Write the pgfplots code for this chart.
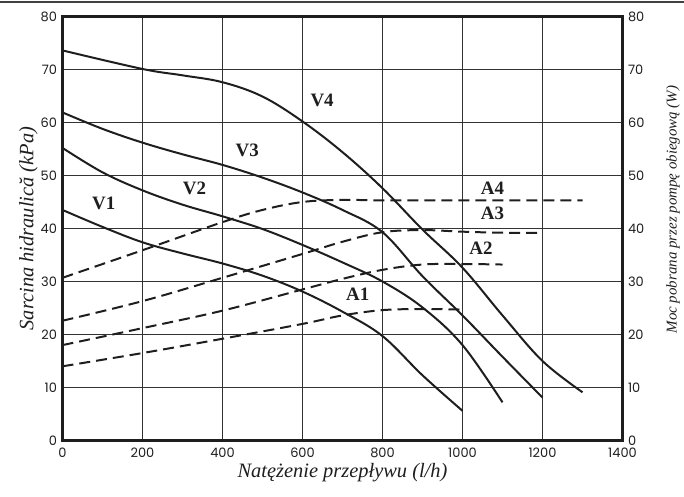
\documentclass[border=0pt]{standalone}
\usepackage{fontspec}
\setmainfont{Liberation Serif}
\newfontfamily\tickfont{Poppins}
\usepackage{pgfplots}
\pgfplotsset{compat=1.18}

\definecolor{ink}{HTML}{1E1E1E}
\definecolor{gridc}{HTML}{333333}

\pgfplotsset{
  pump/.style={
    width=560bp, height=424bp, scale only axis,
    xmin=0, xmax=1400, ymin=0, ymax=80,
    xtick={0,200,...,1400}, ytick={0,10,...,80},
    tick style={draw=none},
    ticklabel style={font=\tickfont\fontsize{13}{15}\selectfont, text=ink},
    /pgf/number format/assume math mode=true,
    /pgf/number format/1000 sep={},
    label style={font=\itshape\fontsize{20.5}{24}\selectfont, text=ink},
  },
  vline/.style={ink, line width=2pt, smooth, tension=0.6, no marks},
  aline/.style={ink, line width=2pt, smooth, tension=0.6, no marks, dash pattern=on 11bp off 6bp},
}

\begin{document}
\begin{tikzpicture}
\begin{axis}[pump, name=ax,
    axis line style={ink, line width=2.4pt},
    grid=major, major grid style={gridc, line width=1.3pt},
    xlabel={Natężenie przepływu (l/h)},
    ylabel={Sarcina hidraulică (kPa)},
    xticklabel style={yshift=-4bp},
    yticklabel style={xshift=-2bp},
    xlabel style={yshift=1bp},
    ylabel style={yshift=-4bp},
]
% V curves (pressure head)
\addplot[vline] coordinates {(0,43.5) (100,40.3) (200,37.4) (300,35.3) (400,33.4) (500,31.1) (600,28.1) (700,24.3) (800,19.7) (900,12.3) (1000,5.6)};
\addplot[vline] coordinates {(0,55.2) (100,50.6) (200,47.2) (300,44.5) (400,42.3) (500,39.9) (600,36.9) (700,33.6) (800,30.0) (900,25.1) (1000,18.0) (1100,7.2)};
\addplot[vline] coordinates {(0,61.9) (100,58.8) (200,56.2) (300,54.0) (400,52.0) (500,49.6) (600,46.8) (700,43.5) (800,39.3) (900,31.0) (1000,23.6) (1100,15.8) (1200,8.1)};
\addplot[vline] coordinates {(0,73.6) (200,70.1) (300,68.9) (400,67.6) (500,64.9) (600,60.2) (700,54.4) (800,47.6) (900,39.8) (1000,32.6) (1100,23.6) (1200,15.0) (1300,9.1)};
% A curves (power)
\addplot[aline] coordinates {(0,14.0) (200,16.5) (400,19.2) (600,22.0) (700,23.6) (800,24.6) (900,24.8) (1000,24.7)};
\addplot[aline] coordinates {(0,18.0) (200,21.2) (400,24.5) (600,28.5) (700,30.5) (800,32.2) (900,33.2) (1000,33.3) (1100,33.2)};
\addplot[aline] coordinates {(0,22.6) (200,26.3) (400,30.7) (600,35.2) (700,37.5) (800,39.3) (900,39.7) (1000,39.4) (1100,39.2) (1200,39.2)};
\addplot[aline] coordinates {(0,30.7) (200,35.9) (400,41.2) (500,43.5) (600,45.0) (700,45.4) (800,45.3) (1000,45.3) (1200,45.3) (1300,45.3)};

\begin{scope}[font=\bfseries\fontsize{19}{22}\selectfont, text=ink]
\node at (axis cs:103,44.7) {V1};
\node at (axis cs:330,47.6) {V2};
\node at (axis cs:462,54.8) {V3};
\node at (axis cs:649,64.2) {V4};
\node at (axis cs:738,27.6) {A1};
\node at (axis cs:1046,36.2) {A2};
\node at (axis cs:1075,42.9) {A3};
\node at (axis cs:1075,47.6) {A4};
\end{scope}
\end{axis}

% right-hand scale (power, W)
\begin{axis}[pump,
    axis line style={draw=none},
    yticklabel pos=right,
    xticklabels={},
    yticklabel style={xshift=2bp},
]
\addplot[draw=none] coordinates {(0,0)};
\end{axis}
\node[rotate=90, font=\itshape\fontsize{15}{18}\selectfont, text=ink]
  at ([shift={(50.5bp,19bp)}]ax.east) {Moc pobrana przez pompę obiegową (W)};

\draw[line width=1.2pt, black!75] ([shift={(-62.5bp,14.5bp)}]ax.north west) -- ([shift={(61.5bp,14.5bp)}]ax.north east);
\pgfresetboundingbox
\path ([shift={(-62.5bp,-56.5bp)}]ax.south west) rectangle ([shift={(61.5bp,16.5bp)}]ax.north east);
\end{tikzpicture}
\end{document}
